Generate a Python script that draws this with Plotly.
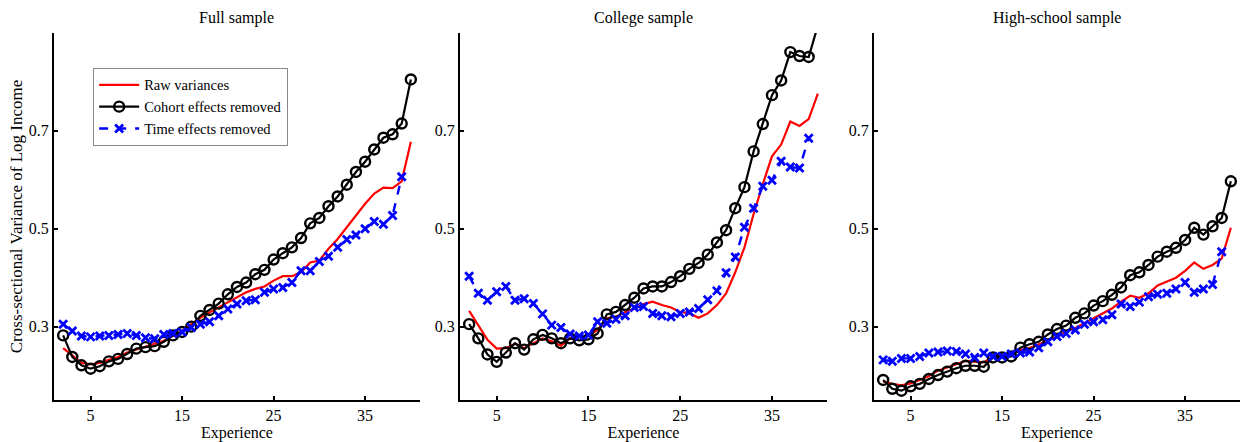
import plotly.graph_objects as go

# ---------------- data ----------------
exp_full = list(range(2, 41))
full_raw = [0.256, 0.241, 0.226, 0.223, 0.226, 0.232, 0.238, 0.247, 0.253, 0.259,
            0.264, 0.271, 0.281, 0.291, 0.305, 0.318, 0.329, 0.339, 0.349, 0.360,
            0.370, 0.377, 0.382, 0.394, 0.403, 0.403, 0.411, 0.431, 0.435, 0.459,
            0.479, 0.503, 0.527, 0.551, 0.572, 0.584, 0.583, 0.597, 0.678]
full_cohort = [0.282, 0.238, 0.221, 0.214, 0.219, 0.229, 0.234, 0.244, 0.255, 0.258,
               0.260, 0.269, 0.282, 0.289, 0.300, 0.322, 0.334, 0.347, 0.366, 0.381,
               0.390, 0.407, 0.416, 0.437, 0.450, 0.462, 0.481, 0.511, 0.522, 0.546,
               0.566, 0.590, 0.616, 0.637, 0.662, 0.686, 0.693, 0.715, 0.805]
exp_time = list(range(2, 40))
full_time = [0.305, 0.291, 0.281, 0.279, 0.281, 0.282, 0.284, 0.286, 0.282, 0.277,
             0.275, 0.284, 0.286, 0.289, 0.298, 0.305, 0.310, 0.322, 0.336, 0.346,
             0.353, 0.355, 0.370, 0.377, 0.380, 0.390, 0.414, 0.414, 0.433, 0.444,
             0.462, 0.478, 0.487, 0.500, 0.515, 0.509, 0.527, 0.606]

col_raw = [0.332, 0.303, 0.273, 0.255, 0.256, 0.265, 0.256, 0.266, 0.276, 0.270,
           0.261, 0.276, 0.278, 0.281, 0.293, 0.317, 0.320, 0.330, 0.337, 0.346,
           0.351, 0.344, 0.339, 0.330, 0.327, 0.318, 0.327, 0.344, 0.368, 0.411,
           0.462, 0.530, 0.591, 0.648, 0.672, 0.719, 0.710, 0.724, 0.776]
col_cohort = [0.305, 0.276, 0.243, 0.228, 0.247, 0.266, 0.253, 0.274, 0.283, 0.276,
              0.266, 0.276, 0.272, 0.274, 0.286, 0.325, 0.330, 0.344, 0.359, 0.378,
              0.382, 0.382, 0.391, 0.403, 0.418, 0.430, 0.447, 0.472, 0.497, 0.542,
              0.585, 0.658, 0.714, 0.773, 0.803, 0.861, 0.853, 0.851, 0.915]
col_time = [0.403, 0.368, 0.354, 0.371, 0.382, 0.354, 0.357, 0.347, 0.326, 0.303,
            0.298, 0.285, 0.281, 0.283, 0.310, 0.307, 0.315, 0.322, 0.339, 0.341,
            0.327, 0.322, 0.320, 0.327, 0.330, 0.337, 0.355, 0.373, 0.410, 0.442,
            0.503, 0.542, 0.587, 0.599, 0.638, 0.626, 0.624, 0.685]

hs_raw = [0.188, 0.183, 0.180, 0.184, 0.191, 0.199, 0.210, 0.216, 0.223, 0.230,
          0.229, 0.227, 0.239, 0.241, 0.246, 0.252, 0.256, 0.263, 0.271, 0.280,
          0.290, 0.297, 0.307, 0.318, 0.327, 0.337, 0.351, 0.363, 0.359, 0.368,
          0.384, 0.392, 0.400, 0.414, 0.431, 0.418, 0.426, 0.439, 0.502]
hs_cohort = [0.191, 0.173, 0.169, 0.178, 0.183, 0.193, 0.201, 0.208, 0.215, 0.220,
             0.220, 0.218, 0.237, 0.237, 0.239, 0.257, 0.264, 0.269, 0.284, 0.295,
             0.302, 0.318, 0.327, 0.343, 0.352, 0.365, 0.380, 0.405, 0.411, 0.426,
             0.443, 0.453, 0.461, 0.477, 0.502, 0.488, 0.505, 0.522, 0.597]
hs_time = [0.232, 0.229, 0.235, 0.235, 0.239, 0.246, 0.248, 0.250, 0.249, 0.244,
           0.237, 0.246, 0.239, 0.239, 0.244, 0.246, 0.248, 0.257, 0.269, 0.280,
           0.286, 0.293, 0.305, 0.310, 0.314, 0.324, 0.346, 0.341, 0.350, 0.361,
           0.366, 0.368, 0.377, 0.390, 0.370, 0.377, 0.386, 0.453]

panel_titles = ["Full sample", "College sample", "High-school sample"]
series_names = ["Raw variances", "Cohort effects removed", "Time effects removed"]
x_ticks = [5, 15, 25, 35]
y_ticks = [0.3, 0.5, 0.7]

panels = [(full_raw, full_cohort, full_time),
          (col_raw, col_cohort, col_time),
          (hs_raw, hs_cohort, hs_time)]

# ---------------- figure ----------------
FONT = "Liberation Serif, Times New Roman, serif"
fig = go.Figure()
domains = [[0.0, 0.3086], [0.3423, 0.6518], [0.6914, 1.0]]

for i, (raw, coh, tim) in enumerate(panels):
    sfx = "" if i == 0 else str(i + 1)
    xa, ya = "x" + sfx, "y" + sfx
    fig.add_trace(go.Scatter(x=exp_full, y=raw, mode="lines", name=series_names[0],
                             line=dict(color="#ff0000", width=2.2),
                             xaxis=xa, yaxis=ya, showlegend=(i == 0)))
    fig.add_trace(go.Scatter(x=exp_full, y=coh, mode="lines+markers", name=series_names[1],
                             line=dict(color="#000000", width=2.2),
                             marker=dict(symbol="circle-open", size=10, color="#000000",
                                         line=dict(width=2.4)),
                             xaxis=xa, yaxis=ya, showlegend=(i == 0)))
    fig.add_trace(go.Scatter(x=exp_time, y=tim, mode="lines+markers", name=series_names[2],
                             line=dict(color="#0000ff", width=2.4, dash="dash"),
                             marker=dict(symbol="x-thin-open", size=8, color="#0000ff",
                                         line=dict(width=2.8, color="#0000ff")),
                             xaxis=xa, yaxis=ya, showlegend=(i == 0)))

    axx = dict(domain=domains[i], range=[1, 41], tickvals=x_ticks,
               showline=True, linecolor="black", linewidth=2, mirror=False,
               showgrid=False, zeroline=False, ticks="inside", ticklen=4,
               tickcolor="black", tickwidth=1.5, anchor=ya,
               tickfont=dict(family=FONT, size=16, color="black"),
               title=dict(text="Experience", standoff=0,
                          font=dict(family=FONT, size=16, color="black")))
    axy = dict(domain=[0, 1], range=[0.15, 0.9], tickvals=y_ticks,
               ticktext=["0.3", "0.5", "0.7"],
               showline=True, linecolor="black", linewidth=2, mirror=False,
               showgrid=False, zeroline=False, ticks="inside", ticklen=4,
               tickcolor="black", tickwidth=1.5, anchor=xa,
               tickfont=dict(family=FONT, size=16, color="black"))
    if i == 0:
        axy["title"] = dict(text="Cross-sectional Variance of Log Income", standoff=2,
                            font=dict(family=FONT, size=17, color="black"))
    fig.layout["xaxis" + sfx] = axx
    fig.layout["yaxis" + sfx] = axy

    fig.add_annotation(text=panel_titles[i], xref="paper", yref="paper",
                       x=sum(domains[i]) / 2, y=1, yshift=15, yanchor="middle",
                       xanchor="center", showarrow=False,
                       font=dict(family=FONT, size=16, color="black"))

fig.update_layout(
    width=1247, height=442,
    margin=dict(l=54, r=7, t=33, b=42),
    plot_bgcolor="white", paper_bgcolor="white",
    legend=dict(x=0.033, y=0.905, xanchor="left", yanchor="top",
                bgcolor="white", bordercolor="#888888", borderwidth=1,
                font=dict(family=FONT, size=14.5, color="black"),
                tracegroupgap=0, itemwidth=40),
)

fig.write_html("out.html")
